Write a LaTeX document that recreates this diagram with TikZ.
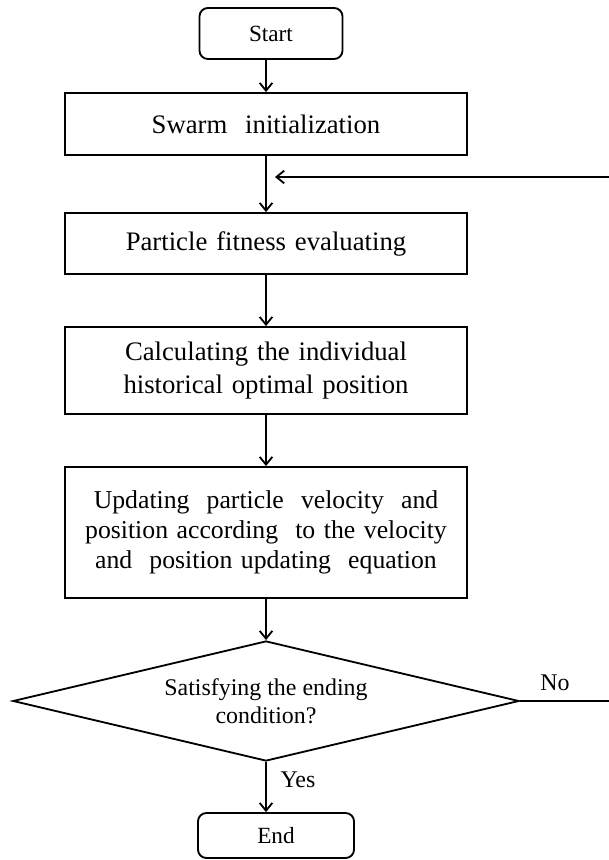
\documentclass[tikz,border=0pt]{standalone}
\usepackage{fontspec}
\setmainfont{Liberation Serif}
\usetikzlibrary{shapes.geometric,arrows.meta}

\tikzset{
  procbox/.style={rectangle, draw, line width=1.3pt, minimum width=10.05cm,
    text width=9.8cm, align=center, inner sep=0pt,
    font=\fontsize{19}{21.5}\selectfont},
  termbox/.style={rectangle, rounded corners=6pt, draw, line width=1.3pt,
    inner sep=0pt, font=\fontsize{16.5}{19}\selectfont},
  decbox/.style={diamond, draw, line width=1.3pt, aspect=4.2, inner sep=0pt,
    minimum width=12.65cm, minimum height=3cm, align=center,
    font=\fontsize{17}{20}\selectfont},
  lbl/.style={font=\fontsize{17}{20}\selectfont, inner sep=0pt},
  >={Straight Barb[length=5.5pt,width=9pt]}
}

\begin{document}
\begin{tikzpicture}[x=0.025cm, y=-0.025cm, line width=1.3pt]
        \useasboundingbox (0,0) rectangle (608,860);

        % Nodes
        \node (start) [termbox, minimum width=3.575cm, minimum height=1.275cm] at (271,33.5) {Start};
        \node (swarm) [procbox, minimum height=1.55cm] at (266,124) {Swarm~~initialization};
        \node (fitness) [procbox, minimum height=1.525cm] at (266,243.5) {Particle~fitness~evaluating};
        \node (calc) [procbox, minimum height=2.175cm, font=\fontsize{19}{23}\selectfont] at (266,370.5) {Calculating~the~individual\\ historical~optimal~position};
        \node (update) [procbox, minimum height=3.275cm, font=\fontsize{18.3}{21.5}\selectfont] at (266,532.5) {Updating~~particle~~velocity~~and\\ position according~~to the velocity\\ and~~position updating~~equation};
        \node (dec) [decbox] at (266,701) {Satisfying the ending\\ condition?};
        \node (endbox) [termbox, minimum width=3.9cm, minimum height=1.125cm] at (276,835.5) {End};

        % Labels
        \node (no) [lbl] at (555,683) {No};
        \node (yes) [lbl] at (298,780) {Yes};

        % Loop corners
        \coordinate (fbout) at (614,701);
        \coordinate (fbup) at (614,177);
        \coordinate (fbin) at (275,177);

        % Edges
        \draw[->] (swarm.north |- start.south) -- (swarm.north);
        \draw[->] (swarm) -- (fitness);
        \draw[->] (fitness) -- (calc);
        \draw[->] (calc) -- (update);
        \draw[->] (update) -- (dec);
        \draw[->] (dec.south) -- (dec.south |- endbox.north);
        \draw[->] (dec.east) -- (fbout) -- (fbup) -- (fbin);
    \end{tikzpicture}
\end{document}
